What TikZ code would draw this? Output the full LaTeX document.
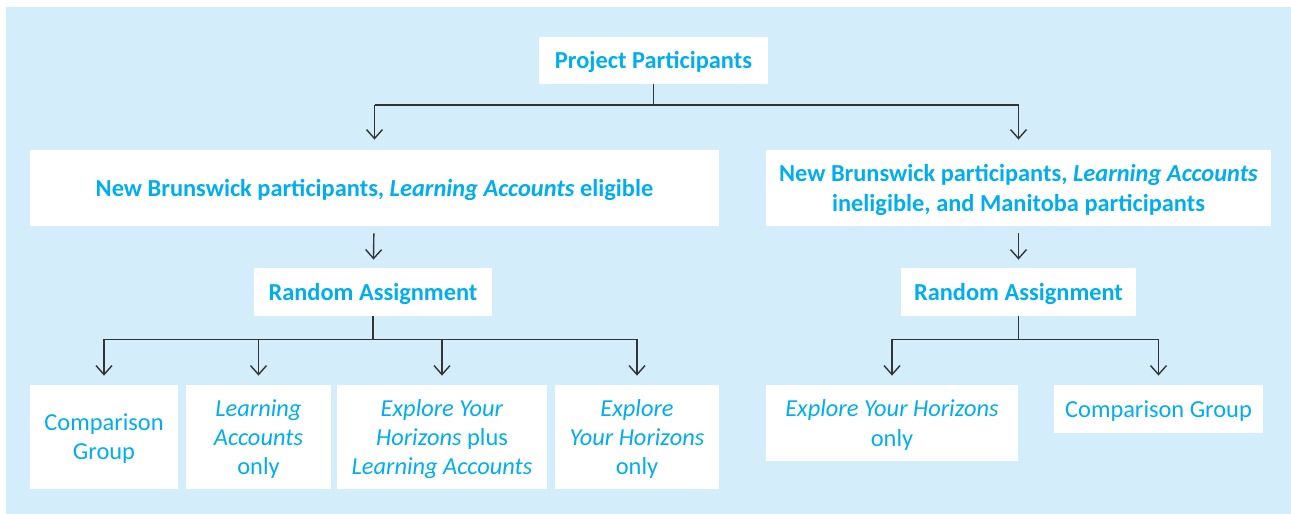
\documentclass[tikz,border=0pt]{standalone}
\usepackage{fontspec}
\setmainfont{Carlito}
\usetikzlibrary{arrows.meta}
\definecolor{bgblue}{HTML}{D3EEFA}
\definecolor{txtcyan}{HTML}{00AEEF}
\definecolor{linegray}{HTML}{333333}
\tikzset{
  box/.style={fill=white, text=txtcyan, align=center, inner sep=0pt,
    text depth=0pt, font=\fontsize{12.2}{14.6}\selectfont},
  headbox/.style={box, font=\fontsize{12.2}{14.6}\selectfont\bfseries},
  link/.style={draw=linegray, line width=0.7pt},
  conn/.style={link, -{Straight Barb[length=4.5pt,width=8pt]}},
}
\begin{document}
\begin{tikzpicture}[x=0.5pt, y=-0.5pt]
% Hintergrund
\useasboundingbox (0,0) rectangle (1291,514);
\fill[bgblue] (6,7) rectangle (1291,514);

% obere Ebene
\node[headbox, minimum width=114.5pt, minimum height=23.5pt] (top) at (653.5,60) {Project Participants};
\node[headbox, minimum width=344.5pt, minimum height=38pt] (nbl) at (374.5,188) {New Brunswick participants, \textit{Learning Accounts} eligible};
\node[headbox, minimum width=252.5pt, minimum height=38pt] (nbr) at (1018.5,188) {New Brunswick participants, \textit{Learning Accounts}\\ineligible, and Manitoba participants};

% Zufallszuteilung
\node[headbox, minimum width=119pt, minimum height=24pt] (ral) at (373,292) {Random Assignment};
\node[headbox, minimum width=117.5pt, minimum height=24pt] (rar) at (1018.5,292) {Random Assignment};

% Gruppen links
\node[box, minimum width=74pt, minimum height=52pt] (c1) at (104,437) {Comparison\\Group};
\node[box, minimum width=72.5pt, minimum height=52pt] (c2) at (258.5,437) {\textit{Learning}\\\textit{Accounts}\\only};
\node[box, minimum width=105pt, minimum height=52pt] (c3) at (442,437) {\textit{Explore Your}\\\textit{Horizons} plus\\\textit{Learning Accounts}};
\node[box, minimum width=82pt, minimum height=52pt] (c4) at (637,437) {\textit{Explore}\\\textit{Your Horizons}\\only};

% Gruppen rechts
\node[box, minimum width=126pt, minimum height=38pt] (d1) at (892,423) {\textit{Explore Your Horizons}\\only};
\node[box, minimum width=104.5pt, minimum height=24pt] (d2) at (1158.5,409) {Comparison Group};

% Verzweigungspunkte
\coordinate (topj) at ([yshift=-10.5pt]top.south);
\coordinate (ralj) at ([yshift=-11.5pt]ral.south);
\coordinate (rarj) at ([yshift=-11.5pt]rar.south);

% Verbindungen
\draw[link] (top.south) -- (topj);
\draw[link] (topj -| nbl) -- (topj -| nbr);
\draw[conn, shorten >=5pt] (topj -| nbl) -- (nbl);
\draw[conn, shorten >=5pt] (topj -| nbr) -- (nbr);
\draw[conn, shorten <=3.5pt, shorten >=4pt] (nbl) -- (ral);
\draw[conn, shorten <=3.5pt, shorten >=4pt] (nbr) -- (rar);
\draw[link] (ral.south) -- (ralj);
\draw[link] (ralj -| c1) -- (ralj -| c4);
\foreach \g in {c1,c2,c3,c4}
  \draw[conn, shorten >=4.5pt] (ralj -| \g) -- (\g);
\draw[link] (rar.south) -- (rarj);
\draw[link] (rarj -| d1) -- (rarj -| d2);
\foreach \g in {d1,d2}
  \draw[conn, shorten >=4.5pt] (rarj -| \g) -- (\g);
\end{tikzpicture}
\end{document}
